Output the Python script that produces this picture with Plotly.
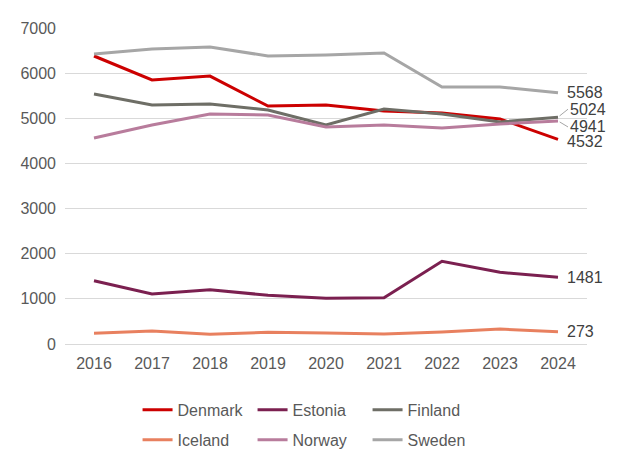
import plotly.graph_objs as go

years = [2016, 2017, 2018, 2019, 2020, 2021, 2022, 2023, 2024]

denmark = [6380, 5850, 5935, 5270, 5295, 5160, 5115, 4985, 4532]
estonia = [1402, 1108, 1203, 1079, 1012, 1026, 1832, 1588, 1481]
finland = [5538, 5295, 5317, 5184, 4852, 5206, 5095, 4918, 5024]
iceland = [237, 288, 215, 259, 244, 222, 266, 332, 273]
norway = [4564, 4852, 5095, 5073, 4807, 4852, 4785, 4874, 4941]
sweden = [6424, 6535, 6580, 6380, 6400, 6446, 5693, 5693, 5568]

names = ['Denmark', 'Estonia', 'Finland', 'Iceland', 'Norway', 'Sweden']
series = [denmark, estonia, finland, iceland, norway, sweden]
colors = ['#CC0000', '#7B2050', '#6E6E66', '#E8805F', '#B87C9C', '#A6A6A6']

# 라벨 위치 조정 (겹치는 값만)
label_shift = {'Finland': (10, -8), 'Norway': (10, 6)}

fig = go.Figure()

for i, name in enumerate(names):
    fig.add_trace(go.Scatter(x=years, y=series[i], mode='lines', name=name,
                             line=dict(color=colors[i], width=3),
                             legend='legend' if i < 3 else 'legend2'))

# 마지막 값 라벨
for i, name in enumerate(names):
    last = series[i][-1]
    if name in label_shift:
        ax, ay = label_shift[name]
        fig.add_annotation(x=years[-1], y=last, text=str(last), showarrow=True,
                           arrowhead=0, arrowwidth=1, arrowcolor='#A6A6A6',
                           ax=ax, ay=ay, xanchor='left', standoff=2,
                           font=dict(size=16, color='#404040'))
    else:
        fig.add_annotation(x=years[-1], y=last, text=str(last), showarrow=False,
                           xanchor='left', xshift=7,
                           yshift=-2 if name == 'Denmark' else 0,
                           font=dict(size=16, color='#404040'))

legend_style = dict(orientation='h', xanchor='left', yanchor='middle',
                    entrywidth=70, entrywidthmode='pixels', itemwidth=30,
                    font=dict(size=16, color='#595959'), bgcolor='rgba(0,0,0,0)')

# 페이지 여백(8px) 보정해서 크기 설정
fig.update_layout(
    width=612, height=464,
    margin=dict(l=46, r=33, t=20, b=128),
    plot_bgcolor='white', paper_bgcolor='white',
    font=dict(family='Liberation Sans, Arial, sans-serif', color='#595959'),
    xaxis=dict(type='linear', range=[years[0] - 0.5, years[-1] + 0.5], dtick=1,
               showgrid=False, showline=False, zeroline=False, ticks='',
               ticklabelstandoff=8, tickfont=dict(size=16, color='#595959')),
    yaxis=dict(range=[0, 7000], dtick=1000, showgrid=True, gridcolor='#D9D9D9', gridwidth=1,
               zeroline=True, zerolinecolor='#D9D9D9', zerolinewidth=1, showline=False,
               ticks='', ticklabelstandoff=8, tickfont=dict(size=16, color='#595959')),
    legend=dict(x=0.139, y=-0.208, **legend_style),
    legend2=dict(x=0.139, y=-0.303, **legend_style),
)

fig.write_html("out.html")
